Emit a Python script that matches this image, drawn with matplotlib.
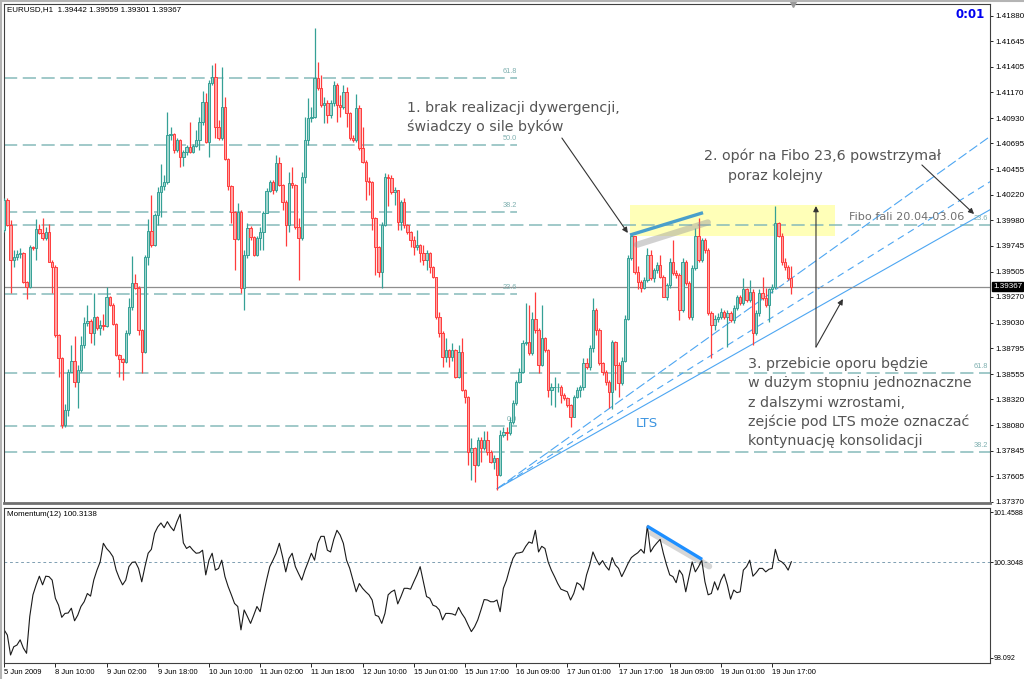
import numpy as np
import matplotlib.pyplot as plt
from matplotlib.patches import Rectangle

plt.rcParams['font.family'] = ['Liberation Sans', 'DejaVu Sans']
plt.rcParams['lines.scale_dashes'] = False

# EURUSD H1, 5 Jun 2009 18:00 .. 19 Jun 2009 23:00 (one value per bar)
symbol = 'EURUSD,H1'
first_open = 1.3989
closes = [
    1.4017, 1.3994, 1.3961, 1.3964, 1.3967, 1.3968, 1.3941, 1.3936, 1.3973, 1.3972,
    1.3990, 1.3986, 1.3982, 1.3987, 1.3959, 1.3955, 1.3892, 1.3870, 1.3808, 1.3822,
    1.3857, 1.3868, 1.3848, 1.3859, 1.3882, 1.3903, 1.3905, 1.3894, 1.3908, 1.3898,
    1.3901, 1.3900, 1.3927, 1.3920, 1.3902, 1.3873, 1.3869, 1.3867, 1.3894, 1.3918,
    1.3940, 1.3935, 1.3896, 1.3876, 1.3964, 1.3988, 1.3975, 1.4003, 1.4024, 1.4030,
    1.4034, 1.4077, 1.4078, 1.4063, 1.4073, 1.4057, 1.4062, 1.4066, 1.4062, 1.4067,
    1.4073, 1.4089, 1.4108, 1.4071, 1.4126, 1.4131, 1.4085, 1.4075, 1.4103, 1.4055,
    1.4030, 1.4006, 1.3981, 1.4006, 1.3935, 1.3966, 1.3991, 1.3983, 1.3966, 1.3982,
    1.3987, 1.4005, 1.4025, 1.4034, 1.4026, 1.4051, 1.4031, 1.4015, 1.3994, 1.4033,
    1.4031, 1.3992, 1.3982, 1.4038, 1.4073, 1.4093, 1.4094, 1.4130, 1.4121, 1.4105,
    1.4107, 1.4096, 1.4107, 1.4124, 1.4105, 1.4103, 1.4117, 1.4098, 1.4075, 1.4073,
    1.4102, 1.4065, 1.4052, 1.4035, 1.4034, 1.4000, 1.3973, 1.3950, 1.3994, 1.4038,
    1.4037, 1.4024, 1.4026, 1.3997, 1.4015, 1.3994, 1.3987, 1.3980, 1.3973, 1.3975,
    1.3968, 1.3961, 1.3968, 1.3955, 1.3946, 1.3908, 1.3894, 1.3871, 1.3878, 1.3871,
    1.3878, 1.3853, 1.3876, 1.3841, 1.3834, 1.3783, 1.3787, 1.3771, 1.3794, 1.3787,
    1.3794, 1.3783, 1.3774, 1.3778, 1.3762, 1.3799, 1.3802, 1.3801, 1.3811, 1.3829,
    1.3848, 1.3857, 1.3884, 1.3885, 1.3875, 1.3907, 1.3896, 1.3864, 1.3889, 1.3878,
    1.3841, 1.3843, 1.3843, 1.3843, 1.3836, 1.3833, 1.3827, 1.3816, 1.3834, 1.3841,
    1.3843, 1.3866, 1.3862, 1.3880, 1.3915, 1.3896, 1.3866, 1.3857, 1.3848, 1.3839,
    1.3885, 1.3864, 1.3847, 1.3868, 1.3907, 1.3963, 1.3984, 1.3950, 1.3941, 1.3935,
    1.3943, 1.3966, 1.3945, 1.3952, 1.3957, 1.3946, 1.3927, 1.3938, 1.3959, 1.3949,
    1.3947, 1.3915, 1.3959, 1.3940, 1.3908, 1.3954, 1.3984, 1.3961, 1.3980, 1.3971,
    1.3912, 1.3901, 1.3907, 1.3908, 1.3913, 1.3908, 1.3912, 1.3906, 1.3917, 1.3927,
    1.3921, 1.3934, 1.3924, 1.3932, 1.3894, 1.3912, 1.3931, 1.3926, 1.3920, 1.3934,
    1.3936, 1.3996, 1.3984, 1.3959, 1.3955, 1.39442, 1.39367,
]
highs = [
    1.4019, 1.4019, 1.3998, 1.3971, 1.3971, 1.3972, 1.3969, 1.3942, 1.3975, 1.3974,
    1.3999, 1.3995, 1.4000, 1.3992, 1.3995, 1.3961, 1.3957, 1.3893, 1.3871, 1.3828,
    1.3860, 1.3882, 1.3891, 1.3864, 1.3891, 1.3908, 1.3920, 1.3907, 1.3931, 1.3909,
    1.3906, 1.3911, 1.3936, 1.3928, 1.3921, 1.3903, 1.3874, 1.3870, 1.3896, 1.3926,
    1.3965, 1.3948, 1.3937, 1.3897, 1.3966, 1.3999, 1.4022, 1.4005, 1.4029, 1.4050,
    1.4040, 1.4099, 1.4085, 1.4079, 1.4075, 1.4074, 1.4063, 1.4068, 1.4089, 1.4069,
    1.4082, 1.4094, 1.4118, 1.4116, 1.4128, 1.4142, 1.4144, 1.4091, 1.4140, 1.4113,
    1.4056, 1.4031, 1.4007, 1.4014, 1.4008, 1.3971, 1.3996, 1.3993, 1.3984, 1.3984,
    1.3992, 1.4007, 1.4028, 1.4036, 1.4036, 1.4059, 1.4057, 1.4032, 1.4017, 1.4043,
    1.4048, 1.4032, 1.4000, 1.4043, 1.4094, 1.4112, 1.4103, 1.4177, 1.4145, 1.4133,
    1.4113, 1.4110, 1.4110, 1.4127, 1.4126, 1.4114, 1.4124, 1.4122, 1.4099, 1.4077,
    1.4115, 1.4105, 1.4085, 1.4054, 1.4038, 1.4035, 1.4001, 1.3974, 1.3997, 1.4042,
    1.4041, 1.4040, 1.4029, 1.4026, 1.4017, 1.4019, 1.3995, 1.3988, 1.3984, 1.3989,
    1.3976, 1.3975, 1.3971, 1.3969, 1.3956, 1.3946, 1.3913, 1.3895, 1.3889, 1.3879,
    1.3884, 1.3879, 1.3882, 1.3889, 1.3842, 1.3835, 1.3796, 1.3788, 1.3797, 1.3797,
    1.3803, 1.3803, 1.3785, 1.3780, 1.3778, 1.3804, 1.3806, 1.3806, 1.3816, 1.3831,
    1.3850, 1.3861, 1.3887, 1.3921, 1.3920, 1.3913, 1.3932, 1.3898, 1.3920, 1.3890,
    1.3879, 1.3847, 1.3853, 1.3847, 1.3845, 1.3838, 1.3834, 1.3828, 1.3836, 1.3843,
    1.3845, 1.3870, 1.3870, 1.3882, 1.3926, 1.3917, 1.3898, 1.3867, 1.3859, 1.3850,
    1.3887, 1.3886, 1.3867, 1.3871, 1.3910, 1.3966, 1.3986, 1.3971, 1.3956, 1.3943,
    1.3946, 1.3972, 1.3971, 1.3954, 1.3959, 1.3966, 1.3947, 1.3940, 1.3963, 1.3980,
    1.3952, 1.3949, 1.3963, 1.3961, 1.3942, 1.3957, 1.3991, 1.4000, 1.3982, 1.3982,
    1.3972, 1.3914, 1.3910, 1.3912, 1.3917, 1.3915, 1.3915, 1.3914, 1.3920, 1.3929,
    1.3929, 1.3945, 1.3935, 1.3943, 1.3934, 1.3915, 1.3934, 1.3946, 1.3935, 1.3935,
    1.3939, 1.4011, 1.3997, 1.3986, 1.3963, 1.3957, 1.39559,
]
lows = [
    1.3987, 1.3993, 1.3931, 1.3955, 1.3961, 1.3963, 1.3940, 1.3925, 1.3935, 1.3971,
    1.3961, 1.3985, 1.3980, 1.3980, 1.3959, 1.3931, 1.3890, 1.3853, 1.3805, 1.3806,
    1.3817, 1.3857, 1.3843, 1.3824, 1.3857, 1.3880, 1.3900, 1.3884, 1.3882, 1.3896,
    1.3892, 1.3896, 1.3899, 1.3919, 1.3901, 1.3872, 1.3853, 1.3850, 1.3866, 1.3892,
    1.3915, 1.3934, 1.3892, 1.3856, 1.3875, 1.3957, 1.3973, 1.3974, 1.3994, 1.4001,
    1.4026, 1.4032, 1.4073, 1.4061, 1.4062, 1.4048, 1.4049, 1.4059, 1.4061, 1.4061,
    1.4066, 1.4063, 1.4087, 1.4070, 1.4057, 1.4124, 1.4075, 1.4073, 1.4073, 1.4054,
    1.4026, 1.3996, 1.3952, 1.3980, 1.3931, 1.3915, 1.3963, 1.3980, 1.3965, 1.3965,
    1.3971, 1.3971, 1.4005, 1.4024, 1.4023, 1.4024, 1.4030, 1.4008, 1.3974, 1.3987,
    1.4028, 1.3990, 1.3943, 1.3980, 1.4033, 1.4068, 1.4089, 1.4093, 1.4119, 1.4103,
    1.4088, 1.4088, 1.4093, 1.4104, 1.4089, 1.4094, 1.4101, 1.4085, 1.4073, 1.4071,
    1.4071, 1.4063, 1.4051, 1.4017, 1.4022, 1.3989, 1.3947, 1.3946, 1.3935, 1.3993,
    1.4011, 1.4023, 1.4012, 1.3989, 1.3989, 1.3991, 1.3985, 1.3973, 1.3966, 1.3971,
    1.3959, 1.3957, 1.3952, 1.3949, 1.3945, 1.3907, 1.3890, 1.3862, 1.3867, 1.3862,
    1.3868, 1.3852, 1.3852, 1.3840, 1.3829, 1.3771, 1.3757, 1.3755, 1.3770, 1.3774,
    1.3785, 1.3780, 1.3773, 1.3767, 1.3748, 1.3761, 1.3797, 1.3794, 1.3799, 1.3809,
    1.3827, 1.3847, 1.3856, 1.3882, 1.3873, 1.3873, 1.3894, 1.3856, 1.3863, 1.3876,
    1.3834, 1.3827, 1.3825, 1.3839, 1.3829, 1.3831, 1.3825, 1.3806, 1.3819, 1.3833,
    1.3834, 1.3841, 1.3860, 1.3859, 1.3876, 1.3892, 1.3864, 1.3855, 1.3845, 1.3824,
    1.3823, 1.3841, 1.3834, 1.3845, 1.3867, 1.3906, 1.3961, 1.3948, 1.3934, 1.3932,
    1.3934, 1.3941, 1.3943, 1.3941, 1.3949, 1.3945, 1.3927, 1.3924, 1.3935, 1.3947,
    1.3945, 1.3906, 1.3913, 1.3938, 1.3907, 1.3906, 1.3952, 1.3959, 1.3959, 1.3968,
    1.3910, 1.3870, 1.3896, 1.3904, 1.3907, 1.3907, 1.3881, 1.3904, 1.3903, 1.3915,
    1.3920, 1.3920, 1.3922, 1.3922, 1.3882, 1.3892, 1.3909, 1.3924, 1.3918, 1.3904,
    1.3931, 1.3934, 1.3983, 1.3957, 1.3952, 1.3943, 1.39301,
]
momentum = [
    98.74, 98.62, 98.16, 98.35, 98.39, 98.51, 98.32, 98.20, 99.05, 99.55,
    99.78, 99.98, 99.78, 99.98, 99.97, 99.89, 99.47, 99.31, 99.03, 99.12,
    99.13, 99.24, 98.95, 99.08, 99.28, 99.39, 99.58, 99.52, 99.89, 100.12,
    100.31, 100.74, 100.62, 100.54, 100.43, 100.12, 99.93, 99.78, 99.89, 100.20,
    100.30, 100.31, 100.16, 99.85, 100.20, 100.51, 100.60, 100.97, 101.12, 101.21,
    101.10, 101.24, 101.12, 101.03, 101.24, 101.41, 100.75, 100.62, 100.67, 100.58,
    100.51, 100.52, 100.58, 100.01, 100.35, 100.51, 100.12, 100.16, 100.35, 99.97,
    99.74, 99.55, 99.35, 99.28, 98.74, 99.20, 99.05, 98.89, 99.08, 99.28,
    99.16, 99.55, 99.89, 100.20, 100.35, 100.51, 100.74, 100.43, 100.08, 100.39,
    100.51, 100.20, 100.04, 99.89, 100.12, 100.31, 100.51, 100.35, 100.74, 100.90,
    100.90, 100.58, 100.54, 100.83, 101.04, 100.93, 100.74, 100.35, 100.16, 99.89,
    99.62, 99.81, 99.70, 99.62, 99.55, 99.43, 99.08, 99.05, 98.89, 99.12,
    99.55, 99.62, 99.66, 99.34, 99.51, 99.70, 99.70, 99.68, 99.85, 100.01,
    100.20, 99.85, 99.51, 99.47, 99.31, 99.28, 99.20, 98.97, 99.12, 99.12,
    99.11, 99.08, 99.26, 99.12, 99.01, 98.85, 98.70, 98.81, 98.97, 99.20,
    99.44, 99.43, 99.39, 99.39, 99.43, 99.16, 99.70, 99.89, 100.16, 100.39,
    100.51, 100.52, 100.54, 100.67, 100.77, 100.74, 101.04, 100.54, 100.67, 100.62,
    100.31, 100.12, 99.97, 99.81, 99.68, 99.65, 99.62, 99.43, 99.58, 99.83,
    99.78, 99.66, 100.01, 100.24, 100.54, 100.37, 100.24, 100.34, 100.21, 100.12,
    100.41, 100.24, 100.16, 99.97, 100.12, 100.28, 100.41, 100.47, 100.52, 100.60,
    100.51, 101.14, 100.54, 100.66, 100.75, 100.83, 100.51, 100.24, 100.01, 99.97,
    99.83, 100.12, 100.01, 99.62, 99.97, 100.31, 100.08, 100.20, 100.35, 99.85,
    99.55, 99.58, 99.85, 99.66, 99.89, 100.03, 99.78, 99.45, 99.66, 99.60,
    99.62, 100.12, 100.20, 100.35, 99.98, 100.06, 100.16, 100.16, 100.08, 100.14,
    100.16, 100.60, 100.35, 100.31, 100.24, 100.12, 100.3138,
]

price_ticks = [1.41880, 1.41645, 1.41405, 1.41170, 1.40930, 1.40695, 1.40455, 1.40220,
               1.39980, 1.39745, 1.39505, 1.39270, 1.39030, 1.38795, 1.38555, 1.38320,
               1.38080, 1.37845, 1.37605, 1.37370]
mom_ticks = [101.4588, 100.3048, 98.092]
mom_tick_labels = ['101.4588', '100.3048', '98.092']
time_labels = ['5 Jun 2009', '8 Jun 10:00', '9 Jun 02:00', '9 Jun 18:00', '10 Jun 10:00',
               '11 Jun 02:00', '11 Jun 18:00', '12 Jun 10:00', '15 Jun 01:00', '15 Jun 17:00',
               '16 Jun 09:00', '17 Jun 01:00', '17 Jun 17:00', '18 Jun 09:00', '19 Jun 01:00',
               '19 Jun 17:00']
label_step = 16

# two fibo grids; the second one is the 20.04-03.06 wave
fib_a_levels = ['61.8', '50.0', '38.2', '23.6', '0.0']
fib_a_prices = [1.4130, 1.4068, 1.4006, 1.3930, 1.3807]
fib_a_end = 160.3
fib_b_levels = ['23.6', '61.8', '38.2']
fib_b_prices = [1.3994, 1.3856, 1.3783]

# LTS rays from the 15 Jun low
lts_start = (154.0, 1.3749)
lts_end_bar = 308.1
lts_end_prices = [1.4076, 1.4034, 1.4008]

# resistance box and the divergence lines (bar, price / bar, momentum)
box_bars = (195.6, 259.6)
box_prices = (1.39836, 1.40124)
div_price = ([195.6, 218.4], [1.39845, 1.40052])
div_mom = ([200.9, 218.1], [101.136, 100.368])

note1 = ['1. brak realizacji dywergencji,', 'świadczy o sile byków']
note2 = ['2. opór na Fibo 23,6 powstrzymał', 'poraz kolejny']
note3 = ['3. przebicie oporu będzie', 'w dużym stopniu jednoznaczne', 'z dalszymi wzrostami,',
         'zejście pod LTS może oznaczać', 'kontynuację konsolidacji']

c = np.array(closes)
h = np.array(highs)
l = np.array(lows)
o = np.r_[first_open, c[:-1]]
x = np.arange(len(c))
up = c >= o

BULL_EDGE, BULL_FILL = '#35A096', '#9FD5CD'
BEAR_EDGE, BEAR_FILL = '#FF3C3C', '#FFA3A3'
NOTE = '#555555'
FIB = '#86BABA'
LTS_C = '#4DA6F2'

W, H = 1024, 679
fig = plt.figure(figsize=(W / 100, H / 100), dpi=100)
ax = fig.add_axes([4 / W, 1 - 503 / H, 986 / W, 499 / H])
axm = fig.add_axes([4 / W, 1 - 663 / H, 986 / W, 155 / H], sharex=ax)

ax.set_xlim(-0.05, 308.08)
ax.set_ylim(1.37358, 1.41989)
axm.set_ylim(97.975, 101.555)

# ---- price panel
ax.add_patch(Rectangle((box_bars[0], box_prices[0]), box_bars[1] - box_bars[0],
                       box_prices[1] - box_prices[0], fc='#FFFFB8', ec='none', zorder=0.5))

for lev, p in zip(fib_a_levels, fib_a_prices):
    ax.plot([-0.05, fib_a_end], [p, p], color=FIB, lw=1.1, dashes=(9.5, 4), zorder=1)
    ax.text(fib_a_end, p + 0.0003, lev, ha='right', va='bottom', fontsize=5.3, color='#7FB0B0')
for lev, p in zip(fib_b_levels, fib_b_prices):
    ax.plot([-0.05, 308.08], [p, p], color=FIB, lw=1.1, dashes=(9.5, 4), zorder=1)
    ax.text(307.5, p + 0.0003, lev, ha='right', va='bottom', fontsize=5.3, color='#7FB0B0')

for p_end, ds in zip(lts_end_prices, [(7, 2.5), (5, 3.5), None]):
    line, = ax.plot([lts_start[0], lts_end_bar], [lts_start[1], p_end], color=LTS_C, lw=0.8, zorder=2)
    if ds:
        line.set_dashes(ds)

ax.axhline(c[-1], color='#8E8E8E', lw=0.9, zorder=2.5)

ax.vlines(x[up], l[up], h[up], color=BULL_EDGE, lw=0.9, zorder=3)
ax.vlines(x[~up], l[~up], h[~up], color=BEAR_EDGE, lw=0.9, zorder=3)
ax.bar(x[up], (c - o)[up], bottom=o[up], width=0.72, color=BULL_FILL, edgecolor=BULL_EDGE,
       linewidth=0.7, zorder=4)
ax.bar(x[~up], (c - o)[~up], bottom=o[~up], width=0.72, color=BEAR_FILL, edgecolor=BEAR_EDGE,
       linewidth=0.7, zorder=4)

ax.plot([div_price[0][0] + 2.2, div_price[0][1] + 1.5],
        [div_price[1][0] - 0.0009, div_price[1][1] - 0.0009],
        color='#9A9A9A', lw=4.5, alpha=0.45, solid_capstyle='round', zorder=4.5)
ax.plot(*div_price, color='#4A9FCB', lw=2.4, solid_capstyle='butt', zorder=5)

arrow = dict(arrowstyle='-|>', color='#333333', lw=0.8, mutation_scale=8, shrinkA=0, shrinkB=0)
ax.annotate('', xy=(194.9, 1.39864), xytext=(174.3, 1.40745), arrowprops=arrow, zorder=6)
ax.annotate('', xy=(303.1, 1.40040), xytext=(286.8, 1.40495), arrowprops=arrow, zorder=6)
ax.annotate('', xy=(253.7, 1.40114), xytext=(253.7, 1.38806), arrowprops=arrow, zorder=6)
ax.annotate('', xy=(262.1, 1.39251), xytext=(253.7, 1.38806), arrowprops=arrow, zorder=6)

step = 0.00179
for i, t in enumerate(note1):
    ax.text(125.9, 1.4099 - i * step, t, fontsize=10.3, color=NOTE, family='DejaVu Sans', zorder=7)
for t, bx, by in zip(note2, [218.7, 226.2], [1.4054, 1.4036]):
    ax.text(bx, by, t, fontsize=10.3, color=NOTE, family='DejaVu Sans', zorder=7)
for i, t in enumerate(note3):
    ax.text(232.5, 1.3861 - i * step, t, fontsize=10.3, color=NOTE, family='DejaVu Sans', zorder=7)
ax.text(264.0, 1.3998, 'Fibo fali 20.04-03.06', fontsize=8.1, color='#707070',
        family='DejaVu Sans', zorder=7)
ax.text(197.5, 1.3806, 'LTS', fontsize=9.6, color='#3D95E0', family='DejaVu Sans', zorder=7)

ax.yaxis.tick_right()
ax.set_yticks(price_ticks)
ax.set_yticklabels([f'{t:.5f}' for t in price_ticks])
ax.tick_params(axis='y', length=2.5, width=0.6, pad=1.2, labelsize=5.8)
ax.tick_params(axis='x', bottom=False, labelbottom=False)
ax.text(1.003, c[-1], f'{c[-1]:.5f}', transform=ax.get_yaxis_transform(), ha='left', va='center',
        fontsize=5.8, color='white', bbox=dict(boxstyle='square,pad=0.12', fc='black', ec='black'))
ax.plot([246.5], [1.41989], marker='v', ms=4, color='#9A9A9A', clip_on=False, zorder=8)

for s in ax.spines.values():
    s.set_color('#404040')
    s.set_linewidth(0.8)
ax.spines['bottom'].set_color('#707070')
ax.spines['bottom'].set_linewidth(2.0)

# ---- momentum panel
axm.axhline(mom_ticks[1], color='#7F9FB2', lw=0.7, dashes=(2, 2))
axm.plot([div_mom[0][0] + 1.5, div_mom[0][1] + 2.2], [div_mom[1][0] - 0.16, div_mom[1][1] - 0.16],
         color='#9A9A9A', lw=4.5, alpha=0.4, solid_capstyle='round')
axm.plot(x, momentum, color='#1A1A1A', lw=0.8)
axm.plot(*div_mom, color='#1E8FFF', lw=2.4, solid_capstyle='butt')

axm.yaxis.tick_right()
axm.set_yticks(mom_ticks)
axm.set_yticklabels(mom_tick_labels)
axm.tick_params(axis='y', length=2.0, width=0.6, pad=0.8, labelsize=5.1)
axm.set_xticks(np.arange(0, len(c), label_step))
axm.set_xticklabels(time_labels, ha='left')
axm.tick_params(axis='x', length=3, width=0.6, pad=1.5, labelsize=5.5)
for s in axm.spines.values():
    s.set_color('#404040')
    s.set_linewidth(0.8)

fig.text(7 / W, 1 - 10 / H, f'{symbol}  {o[-1]:.5f} {h[-1]:.5f} {l[-1]:.5f} {c[-1]:.5f}',
         fontsize=5.8, va='center', ha='left')
fig.text(7 / W, 1 - 514 / H, f'Momentum(12) {momentum[-1]:.4f}', fontsize=5.8, va='center', ha='left')
fig.text(985 / W, 1 - 15 / H, '0:01', fontsize=8.5, fontweight='bold', color='#0000F0',
         family='DejaVu Sans', ha='right', va='center')

fig.add_artist(plt.Line2D([1 / W, 1 / W], [0, 1], color='#B4B4B4', lw=1.5))
fig.add_artist(plt.Line2D([0, 1], [1 - 1 / H, 1 - 1 / H], color='#B4B4B4', lw=1.5))

fig.savefig('out.png', dpi=100)
